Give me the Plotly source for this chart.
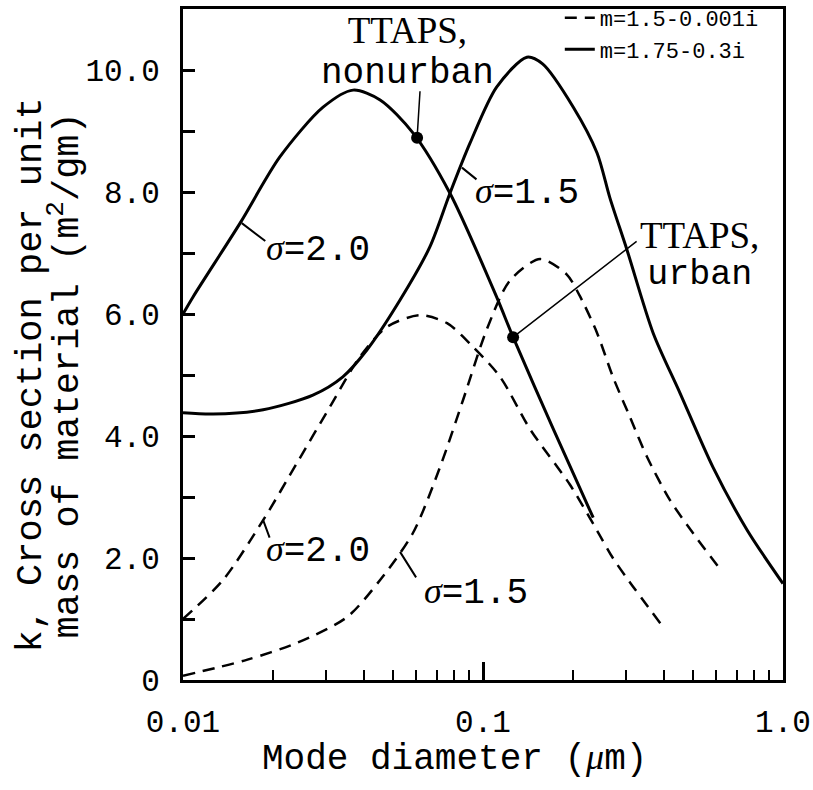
import plotly.graph_objects as go
import math

# ---- data ----
# m = 1.5 - 0.001i (dashed)
d20_x = [0.01, 0.0136, 0.0185, 0.024, 0.0309, 0.0389, 0.0479, 0.0616, 0.0759, 0.0927, 0.114, 0.144, 0.195, 0.24, 0.271, 0.309, 0.39]
d20_y = [1.0, 1.64, 2.62, 3.56, 4.48, 5.30, 5.79, 5.98, 5.85, 5.46, 4.97, 4.10, 3.2, 2.45, 2.0, 1.6, 0.93]

d15_x = [0.01, 0.0163, 0.024, 0.0352, 0.0454, 0.0584, 0.0719, 0.0858, 0.103, 0.123, 0.155, 0.19, 0.21, 0.24, 0.271, 0.309, 0.352, 0.42, 0.501, 0.61]
d15_y = [0.07, 0.33, 0.61, 1.03, 1.64, 2.41, 3.49, 4.59, 5.75, 6.55, 6.9, 6.65, 6.3, 5.69, 4.97, 4.31, 3.66, 2.95, 2.41, 1.85]

# m = 1.75 - 0.3i (solid)
s20_x = [0.01, 0.0108, 0.0155, 0.021, 0.0293, 0.0369, 0.0454, 0.0584, 0.0776, 0.111, 0.126, 0.171, 0.233]
s20_y = [6.0, 6.28, 7.49, 8.57, 9.39, 9.67, 9.51, 8.97, 7.98, 6.28, 5.62, 4.13, 2.66]

s15_x = [0.01, 0.0126, 0.0185, 0.0271, 0.0341, 0.041, 0.0529, 0.0665, 0.0776, 0.0905, 0.111, 0.140, 0.158, 0.2, 0.24, 0.265, 0.302, 0.369, 0.454, 0.584, 0.759, 1.0]
s15_y = [4.38, 4.36, 4.43, 4.67, 4.97, 5.41, 6.23, 7.10, 7.98, 8.80, 9.72, 10.21, 10.1, 9.39, 8.64, 7.9, 7.05, 5.69, 4.70, 3.49, 2.46, 1.58]

ttaps_x = [0.0603, 0.126]
ttaps_y = [8.89, 5.62]

legend_names = ["m=1.5-0.001i", "m=1.75-0.3i"]
x_tickvals = [0.01, 0.1, 1.0]
x_ticktext = ["0.01", "0.1", "1.0"]
x_minor = [0.02, 0.03, 0.04, 0.05, 0.06, 0.07, 0.08, 0.09, 0.2, 0.3, 0.4, 0.5, 0.6, 0.7, 0.8, 0.9]
y_tickvals = [0, 2, 4, 6, 8, 10]
y_ticktext = ["0", "2.0", "4.0", "6.0", "8.0", "10.0"]
y_minor = [1, 3, 5, 7, 9]

MONO = "Liberation Mono"
SERIF = "Liberation Serif"
DASH = "12px,8px"

fig = go.Figure()
fig.add_trace(go.Scatter(x=d20_x, y=d20_y, mode="lines", name=legend_names[0],
                         line=dict(color="black", width=2.5, dash=DASH, shape="spline", smoothing=0.8),
                         showlegend=True, legendrank=1))
fig.add_trace(go.Scatter(x=d15_x, y=d15_y, mode="lines", name=legend_names[0],
                         line=dict(color="black", width=2.5, dash=DASH, shape="spline", smoothing=0.8),
                         showlegend=False))
fig.add_trace(go.Scatter(x=s20_x, y=s20_y, mode="lines", name=legend_names[1],
                         line=dict(color="black", width=3, shape="spline", smoothing=0.8),
                         showlegend=True, legendrank=2))
fig.add_trace(go.Scatter(x=s15_x, y=s15_y, mode="lines", name=legend_names[1],
                         line=dict(color="black", width=3, shape="spline", smoothing=0.8),
                         showlegend=False))
fig.add_trace(go.Scatter(x=ttaps_x, y=ttaps_y, mode="markers",
                         marker=dict(color="black", size=12), showlegend=False))

lg = math.log10

def txt(x, y, t, size=30, family=MONO):
    fig.add_annotation(x=lg(x), y=y, text=t, showarrow=False,
                       font=dict(family=family, size=size, color="black"))

def leader(x, y, ax, ay, width=2):
    fig.add_annotation(x=lg(x), y=y, text="", showarrow=True, arrowhead=0,
                       arrowwidth=width, arrowcolor="black", ax=ax, ay=ay, standoff=0)

# TTAPS labels (two-line blocks)
fig.add_annotation(x=lg(0.0562), y=10.30, showarrow=False,
                   text="<span style='font-size:37px'>TTAPS,</span><br>"
                        "<span style='font-family:Liberation Mono;font-size:36px'>nonurban</span>",
                   font=dict(family=SERIF, size=31, color="black"))
fig.add_annotation(x=lg(0.0603), y=8.89, text="", showarrow=True, arrowhead=0,
                   arrowwidth=1.5, arrowcolor="black", ax=3, ay=-48, standoff=5)
fig.add_annotation(x=lg(0.528), y=6.96, showarrow=False,
                   text="<span style='font-size:37px'>TTAPS,</span><br>"
                        "<span style='font-family:Liberation Mono;font-size:35px'>urban</span>",
                   font=dict(family=SERIF, size=28, color="black"))
fig.add_annotation(x=lg(0.126), y=5.62, text="", showarrow=True, arrowhead=0,
                   arrowwidth=1.5, arrowcolor="black", ax=125, ay=-97, standoff=5)

sig = "<span style='font-family:Liberation Serif'><i>σ</i></span>"
txt(0.14, 8.0, sig + "=1.5", 36)
leader(0.0851, 8.4, 16, 13)
txt(0.0282, 7.05, sig + "=2.0", 36)
leader(0.0157, 7.49, 25, 19)
txt(0.0282, 2.13, sig + "=2.0", 36)
leader(0.0185, 2.62, 7, 19)
txt(0.0948, 1.43, sig + "=1.5", 36)
leader(0.0529, 2.1, 17, 27)

# y-axis title (two lines)
fig.add_annotation(xref="paper", yref="paper", x=0, y=0.5, xanchor="center", yanchor="middle",
                   xshift=-153, yshift=-31,
                   text="k, Cross section per unit", textangle=-90, showarrow=False,
                   font=dict(family=MONO, size=37, color="black"))
fig.add_annotation(xref="paper", yref="paper", x=0, y=0.5, xanchor="center", yanchor="middle",
                   xshift=-118, yshift=-31,
                   text="mass of material (m<sup>2</sup>/gm)", textangle=-90, showarrow=False,
                   font=dict(family=MONO, size=37, color="black"))

# x-axis title
fig.add_annotation(xref="paper", yref="paper", x=0.453, y=0, xanchor="center", yanchor="middle",
                   yshift=-78, showarrow=False,
                   text="Mode diameter (<span style='font-family:Liberation Serif'><i>μ</i></span>m)",
                   font=dict(family=MONO, size=36, color="black"))

fig.update_xaxes(type="log", range=[-2, 0], tickvals=x_tickvals, ticktext=x_ticktext,
                 ticks="inside", ticklen=18, tickwidth=2.5, tickcolor="black",
                 minor=dict(tickvals=x_minor, ticks="inside", ticklen=10, tickwidth=2, tickcolor="black"),
                 showline=True, linewidth=3, linecolor="black", mirror=True,
                 showgrid=False, zeroline=False,
                 tickfont=dict(family=MONO, size=31, color="black"), ticklabelstandoff=12)
fig.update_yaxes(range=[0, 11], tickvals=y_tickvals, ticktext=y_ticktext,
                 ticks="inside", ticklen=12, tickwidth=2.5, tickcolor="black",
                 minor=dict(tickvals=y_minor, ticks="inside", ticklen=12, tickwidth=2.5, tickcolor="black"),
                 showline=True, linewidth=3, linecolor="black", mirror=True,
                 showgrid=False, zeroline=False,
                 tickfont=dict(family=MONO, size=31, color="black"), ticklabelstandoff=14)

fig.update_layout(width=813, height=790, margin=dict(l=183, r=30, t=9, b=110, autoexpand=False),
                  paper_bgcolor="white", plot_bgcolor="white",
                  legend=dict(x=0.628, y=1.018, xanchor="left", yanchor="top",
                              bgcolor="rgba(0,0,0,0)", borderwidth=0,
                              font=dict(family=MONO, size=22, color="black"),
                              tracegroupgap=0, itemwidth=30))

fig.write_html("out.html")
